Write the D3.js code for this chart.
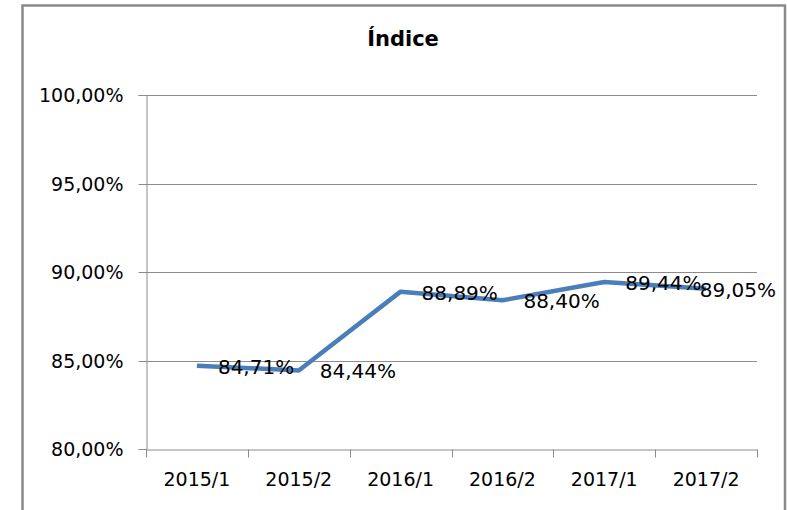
<!DOCTYPE html>
<html>
<head>
<meta charset="utf-8">
<script src="https://cdn.jsdelivr.net/npm/d3@7"></script>
<style>
  html, body { margin: 0; padding: 0; background: #fff; }
  svg { display: block; }
</style>
</head>
<body>
<svg id="chart" width="787" height="510"></svg>
<script>
const title = "Índice";
const categories = ["2015/1", "2015/2", "2016/1", "2016/2", "2017/1", "2017/2"];
const values = [84.71, 84.44, 88.89, 88.40, 89.44, 89.05];
const yTicks = [80, 85, 90, 95, 100];

const svg = d3.select("#chart");
const frame = { left: 22.5, top: 5.5, right: 785, bottom: 520 };
const plot = { left: 146, right: 757, top: 95, bottom: 449 };

const fmt = v => d3.format(".2f")(v).replace(".", ",") + "%";

// frame
svg.append("rect")
  .attr("x", frame.left).attr("y", frame.top)
  .attr("width", frame.right - frame.left).attr("height", frame.bottom - frame.top)
  .attr("fill", "#fff").attr("stroke", "#8a8a8a").attr("stroke-width", 2.5);

// title
svg.append("text")
  .attr("x", 403).attr("y", 46)
  .attr("text-anchor", "middle")
  .attr("font-family", "DejaVu Sans, sans-serif")
  .attr("font-weight", "bold")
  .attr("font-size", 21)
  .attr("fill", "#000")
  .text(title);

const x = d3.scaleBand().domain(categories).range([plot.left, plot.right]).padding(0);
const y = d3.scaleLinear().domain([80, 100]).range([plot.bottom, plot.top]);

// gridlines
svg.append("g").selectAll("line").data(yTicks.filter(t => t !== 80)).join("line")
  .attr("x1", plot.left).attr("x2", plot.right)
  .attr("y1", d => Math.round(y(d)) + 0.5).attr("y2", d => Math.round(y(d)) + 0.5)
  .attr("stroke", "#8c8c8c").attr("stroke-width", 1);

// y axis
const yAxis = svg.append("g")
  .attr("transform", `translate(${plot.left + 0.5},0)`)
  .call(d3.axisLeft(y).tickValues(yTicks).tickSize(8).tickPadding(15).tickFormat(fmt));
yAxis.selectAll("line, path").attr("stroke", "#8c8c8c");
yAxis.selectAll("text")
  .attr("font-family", "DejaVu Sans, sans-serif")
  .attr("font-size", 19).attr("fill", "#000");
yAxis.selectAll(".tick").attr("transform", d => `translate(0,${Math.round(y(d)) + 0.5})`);

// x axis
const xAxis = svg.append("g")
  .attr("transform", `translate(0,${plot.bottom + 0.5})`)
  .call(d3.axisBottom(x).tickSize(0).tickPadding(23));
xAxis.select("path").attr("stroke", "#8c8c8c");
xAxis.selectAll("text")
  .attr("font-family", "DejaVu Sans, sans-serif")
  .attr("font-size", 19).attr("fill", "#000");
// boundary tick marks
const bounds = categories.map(c => x(c)).concat([x(categories[categories.length - 1]) + x.bandwidth()]);
xAxis.append("g").selectAll("line").data(bounds).join("line")
  .attr("x1", d => Math.round(d) + 0.5).attr("x2", d => Math.round(d) + 0.5)
  .attr("y1", 0).attr("y2", 8)
  .attr("stroke", "#8c8c8c");

// line
const cx = c => x(c) + x.bandwidth() / 2;
svg.append("path")
  .datum(values)
  .attr("fill", "none")
  .attr("stroke", "#4a7ebb")
  .attr("stroke-width", 4.5)
  .attr("stroke-linejoin", "round")
  .attr("d", d3.line().x((d, i) => cx(categories[i])).y(d => y(d)));

// data labels
const labels = svg.append("g").selectAll("text").data(values).join("text")
  .attr("font-family", "DejaVu Sans, sans-serif")
  .attr("font-size", 20)
  .attr("fill", "#000")
  .attr("dominant-baseline", "central")
  .attr("y", d => y(d) + 1)
  .text(d => fmt(d));
labels.each(function(d, i) {
  const w = this.getComputedTextLength();
  const px = cx(categories[i]) + 21;
  const maxX = frame.right - 9 - w;
  d3.select(this).attr("x", Math.min(px, maxX));
});
</script>
</body>
</html>
